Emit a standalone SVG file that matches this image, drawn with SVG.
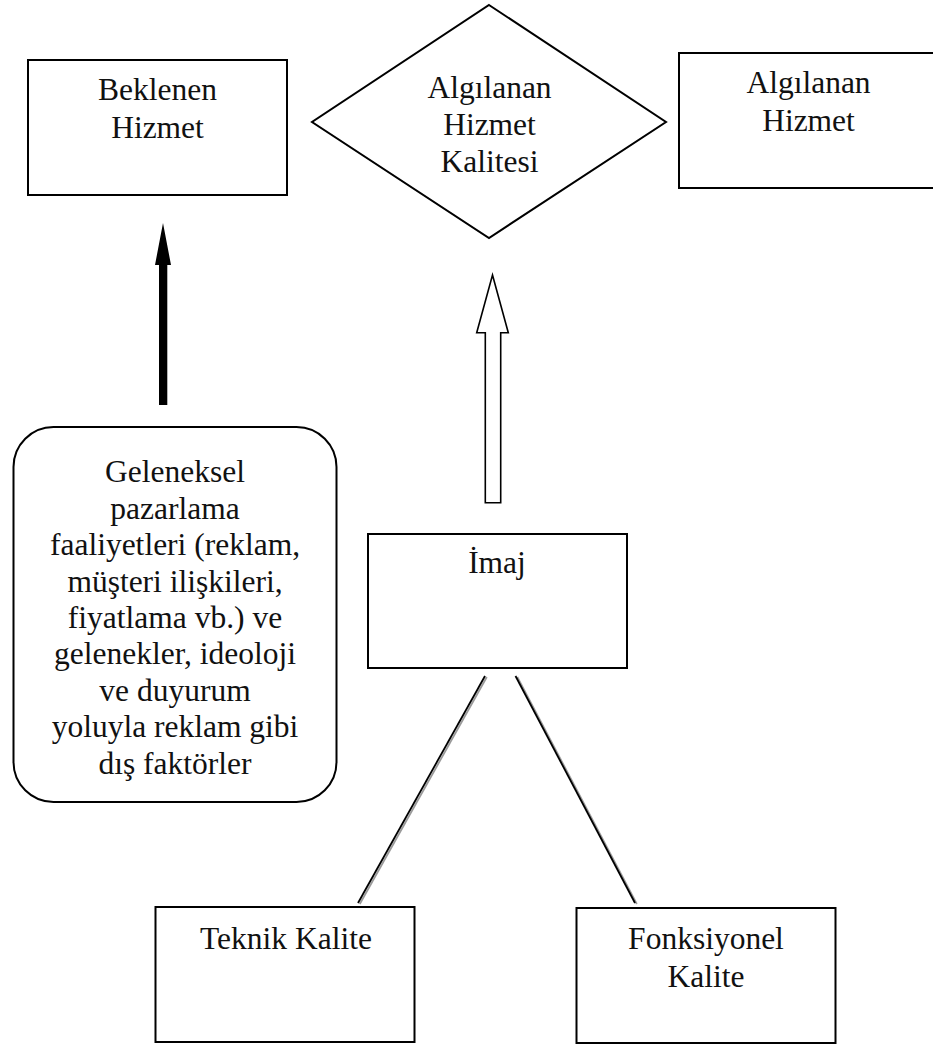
<svg xmlns="http://www.w3.org/2000/svg" width="933" height="1047" viewBox="0 0 933 1047" font-family="Liberation Serif, Times New Roman, Times, DejaVu Serif, serif">
  <style>
    .box { fill: #ffffff; stroke: #000000; stroke-width: 2; }
    .lbl { font-size: 31.5px; fill: #111111; text-anchor: middle; }
    .solid { fill: #000000; stroke: none; }
    .hollow { fill: #ffffff; stroke: #000000; stroke-width: 1.6; stroke-linejoin: miter; }
    .link { stroke: #000000; stroke-width: 1.8; fill: none; }
    .shadow { stroke: #9a9a9a; stroke-width: 1.8; fill: none; }
  </style>

  <rect width="933" height="1047" fill="#ffffff"/>

  <!-- connectors -->
  <g id="connectors">
    <!-- thick solid arrow into Beklenen Hizmet -->
    <polygon class="solid" points="163,223 171,265 167.3,265 167.3,405 159,405 159,265 155,265"/>
    <!-- outlined arrow from İmaj up to the diamond -->
    <polygon class="hollow" points="492.5,275 508.3,332.7 500.7,332.7 500.7,502.7 485.3,502.7 485.3,332.7 476.7,332.7"/>
    <!-- shadowed lines from İmaj down to the two quality boxes -->
    <line class="shadow" x1="486.8" y1="677" x2="359.8" y2="904"/>
    <line class="link" x1="485" y1="676" x2="358" y2="903"/>
    <line class="shadow" x1="517.3" y1="677" x2="636.8" y2="904"/>
    <line class="link" x1="515.5" y1="676" x2="635" y2="903"/>
  </g>

  <g id="beklenen-hizmet">
    <rect class="box" x="28" y="60" width="259" height="135"/>
    <text class="lbl" x="157.5" y="100" font-family="Liberation Serif, serif">Beklenen</text>
    <text class="lbl" x="157.5" y="138" font-family="Liberation Serif, serif">Hizmet</text>
  </g>

  <g id="algilanan-hizmet-kalitesi">
    <polygon class="box" points="489,5 666,122 489,238 312,122"/>
    <text class="lbl" x="489.5" y="98" font-family="Liberation Serif, serif">Algılanan</text>
    <text class="lbl" x="489.5" y="135" font-family="Liberation Serif, serif">Hizmet</text>
    <text class="lbl" x="489.5" y="172" font-family="Liberation Serif, serif">Kalitesi</text>
  </g>

  <g id="algilanan-hizmet">
    <rect class="box" x="679" y="53" width="259" height="135"/>
    <text class="lbl" x="808.5" y="93" font-family="Liberation Serif, serif">Algılanan</text>
    <text class="lbl" x="808.5" y="131" font-family="Liberation Serif, serif">Hizmet</text>
  </g>

  <g id="dis-faktorler" font-family="Liberation Serif, serif">
    <rect class="box" x="13.5" y="427" width="323" height="375" rx="40" ry="40"/>
    <text class="lbl" x="175" y="482">Geleneksel</text>
    <text class="lbl" x="175" y="518.5">pazarlama</text>
    <text class="lbl" x="175" y="555">faaliyetleri (reklam,</text>
    <text class="lbl" x="175" y="591.5">müşteri ilişkileri,</text>
    <text class="lbl" x="175" y="628">fiyatlama vb.) ve</text>
    <text class="lbl" x="175" y="664">gelenekler, ideoloji</text>
    <text class="lbl" x="175" y="700.5">ve duyurum</text>
    <text class="lbl" x="175" y="737">yoluyla reklam gibi</text>
    <text class="lbl" x="175" y="773.5">dış faktörler</text>
  </g>

  <g id="imaj" font-family="Liberation Serif, serif">
    <rect class="box" x="368" y="534" width="259" height="134"/>
    <text class="lbl" x="497" y="573">İmaj</text>
  </g>

  <g id="teknik-kalite" font-family="Liberation Serif, serif">
    <rect class="box" x="155.5" y="907" width="259" height="135"/>
    <text class="lbl" x="286" y="949">Teknik Kalite</text>
  </g>

  <g id="fonksiyonel-kalite" font-family="Liberation Serif, serif">
    <rect class="box" x="576.5" y="908" width="259" height="135"/>
    <text class="lbl" x="706" y="949">Fonksiyonel</text>
    <text class="lbl" x="706" y="987">Kalite</text>
  </g>
</svg>
